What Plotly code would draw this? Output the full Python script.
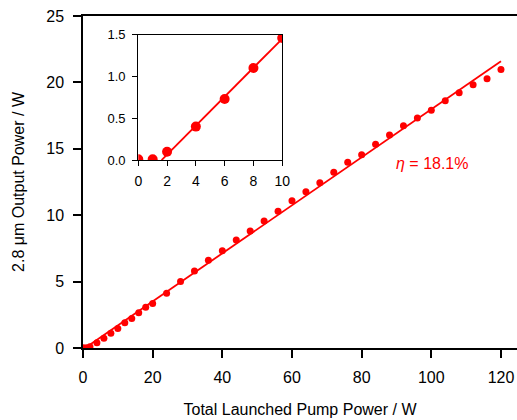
import plotly.graph_objects as go

# Main data: total launched pump power (W) vs 2.8 um output power (W)
pump_w = [0, 1, 2, 4, 6, 8, 10, 12, 14, 16, 18, 20, 24, 28, 32, 36, 40, 44, 48, 52,
          56, 60, 64, 68, 72, 76, 80, 84, 88, 92, 96, 100, 104, 108, 112, 116, 120]
output_w = [0.01, 0.01, 0.1, 0.4, 0.73, 1.12, 1.47, 1.91, 2.23, 2.66, 3.06, 3.36, 4.12,
            5.0, 5.8, 6.6, 7.33, 8.13, 8.81, 9.56, 10.3, 11.09, 11.77, 12.45, 13.23,
            13.98, 14.56, 15.34, 16.04, 16.74, 17.32, 17.9, 18.62, 19.23, 19.83, 20.28, 20.98]

# Linear fit (slope efficiency 18.1%)
fit_x = [0.6, 120]
fit_y = [0.0, 21.6]

# Inset data (low-power region)
inset_x = [0, 1, 2, 4, 6, 8, 10]
inset_y = [0.01, 0.01, 0.1, 0.4, 0.73, 1.1, 1.46]
inset_fit_x = [1.62, 10]
inset_fit_y = [0.0, 1.45]

RED = "#ff0000"
FONT = "Liberation Sans, Arial, Helvetica, sans-serif"

fig = go.Figure()
fig.add_trace(go.Scatter(x=fit_x, y=fit_y, mode="lines",
                         line=dict(color=RED, width=1.8), showlegend=False,
                         xaxis="x", yaxis="y"))
fig.add_trace(go.Scatter(x=pump_w, y=output_w, mode="markers",
                         marker=dict(color=RED, size=7), showlegend=False,
                         xaxis="x", yaxis="y"))
fig.add_trace(go.Scatter(x=inset_fit_x, y=inset_fit_y, mode="lines",
                         line=dict(color=RED, width=1.8), showlegend=False,
                         xaxis="x2", yaxis="y2"))
fig.add_trace(go.Scatter(x=inset_x, y=inset_y, mode="markers",
                         marker=dict(color=RED, size=10), showlegend=False,
                         xaxis="x2", yaxis="y2"))

axis_common = dict(showgrid=False, zeroline=False, showline=True, linecolor="black",
                   ticks="outside", tickcolor="black", automargin=False)

fig.update_layout(
    width=517, height=420,
    margin=dict(l=83, r=0, t=16, b=72),
    plot_bgcolor="white", paper_bgcolor="white",
    font=dict(family=FONT, color="black", size=15),
    xaxis=dict(**axis_common, range=[0, 124.6], tickvals=[0, 20, 40, 60, 80, 100, 120],
               linewidth=1.5, tickwidth=1.5, ticklen=8, mirror=True,
               tickfont=dict(size=16), ticklabelstandoff=6,
               title=dict(text="Total Launched Pump Power / W", font=dict(size=16), standoff=19)),
    yaxis=dict(**axis_common, range=[0, 25], tickvals=[0, 5, 10, 15, 20, 25],
               linewidth=1.5, tickwidth=1.5, ticklen=8, mirror=True,
               tickfont=dict(size=16), ticklabelstandoff=6,
               title=dict(text="2.8 μm Output Power / W", font=dict(size=16), standoff=18)),
    xaxis2=dict(**axis_common, domain=[0.1274, 0.459], anchor="y2", range=[0, 10],
                tickvals=[0, 2, 4, 6, 8, 10], linewidth=1.2, tickwidth=1.2, ticklen=5,
                mirror=True, tickfont=dict(size=14), ticklabelstandoff=3),
    yaxis2=dict(**axis_common, domain=[0.566, 0.944], anchor="x2", range=[0, 1.5],
                tickvals=[0, 0.5, 1.0, 1.5], ticktext=["0.0", "0.5", "1.0", "1.5"],
                linewidth=1.2, tickwidth=1.2, ticklen=5, mirror=True,
                tickfont=dict(size=13), ticklabelstandoff=4),
    annotations=[dict(x=100.2, y=13.9, xref="x", yref="y", showarrow=False,
                      text="<i>η</i> = 18.1%", font=dict(color=RED, size=16))],
)

fig.write_html("out.html")
